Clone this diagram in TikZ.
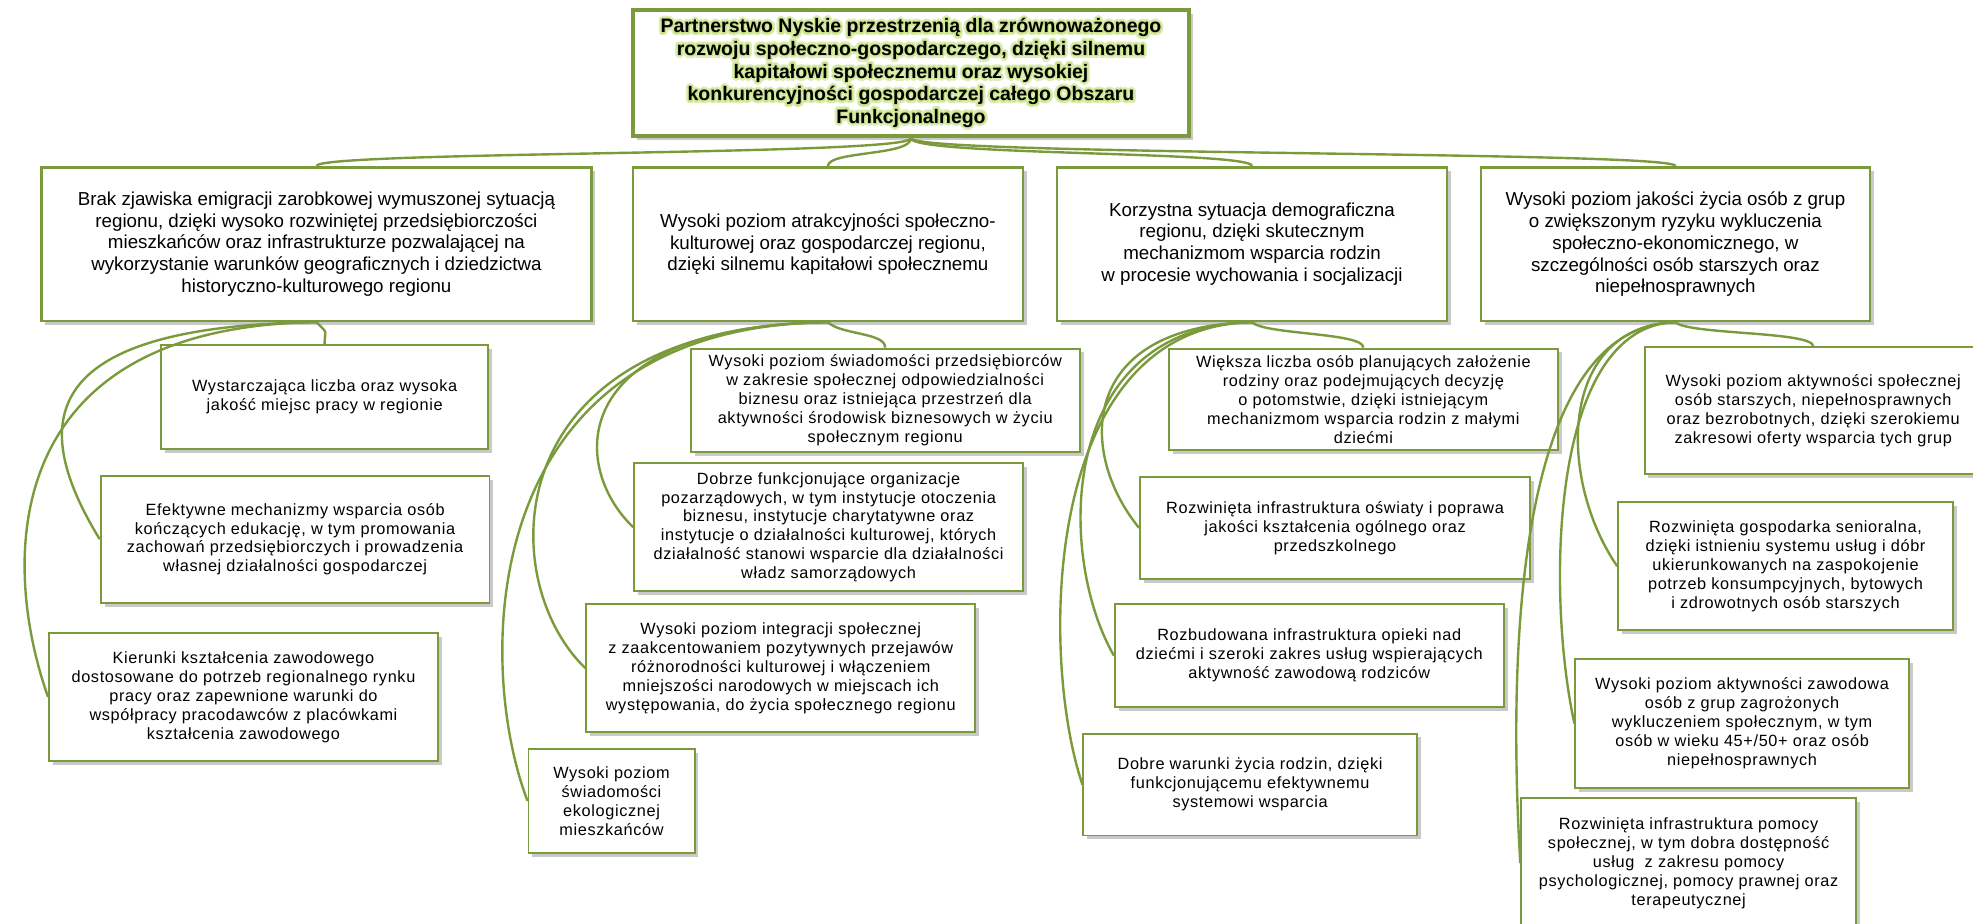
\documentclass[tikz,border=0pt]{standalone}
\usepackage{fontspec}
\setmainfont{Liberation Sans}
\newfontfamily\childfont[LetterSpace=4]{Liberation Sans}
\usetikzlibrary{calc,shadows}

\definecolor{boxgreen}{RGB}{122,154,60}
\definecolor{glowgreen}{RGB}{196,224,128}

\tikzset{
  boxsize/.style n args={2}{
    minimum width=#1*0.025cm,
    minimum height=#2*0.025cm
  }
}

\begin{document}
\begin{tikzpicture}[
  x=0.025cm, y=-0.025cm,
  box/.style={
    draw=boxgreen,
    fill=white,
    align=center,
    inner sep=2pt,
    drop shadow={shadow xshift=2.2pt, shadow yshift=-2.2pt, opacity=0.35, fill=black!60}
  },
  vision/.style={box, line width=2.6pt},
  visiontext/.style={
    align=center,
    inner sep=0pt,
    font=\bfseries\fontsize{11}{12.8}\selectfont
  },
  goal/.style={box, line width=1.5pt, font=\fontsize{10.6}{12.4}\selectfont},
  aim/.style={box, line width=1.1pt, font=\childfont\fontsize{9.2}{10.7}\selectfont},
  link/.style={draw=boxgreen, line width=1.35pt}
]

  \fill[white] (0,0) rectangle (1568,734);
  \useasboundingbox (0,0) rectangle (1568,734);

  % Main vision, with a soft green halo round the bold title.
  \def\visiontxt{Partnerstwo Nyskie przestrzenią dla zrównoważonego\\
    rozwoju społeczno-gospodarczego, dzięki silnemu\\
    kapitałowi społecznemu oraz wysokiej\\
    konkurencyjności gospodarczej całego Obszaru\\
    Funkcjonalnego}
  \node[vision, boxsize={442}{100}] (top) at (724,58) {};
  \foreach \a in {0,30,...,330} {
    \node[visiontext, text=glowgreen!55] at ($(top.center)+(\a:1.7pt)$) {\visiontxt};
    \node[visiontext, text=glowgreen] at ($(top.center)+(\a:0.9pt)$) {\visiontxt};
  }
  \node[visiontext] (title) at (top.center) {\visiontxt};

  % Strategic goals.
  \node[goal, boxsize={437}{122}] (A) at (251.5,194) {Brak zjawiska emigracji zarobkowej wymuszonej sytuacją\\
    regionu, dzięki wysoko rozwiniętej przedsiębiorczości\\
    mieszkańców oraz infrastrukturze pozwalającej na\\
    wykorzystanie warunków geograficznych i dziedzictwa\\
    historyczno-kulturowego regionu};
  \node[goal, boxsize={310}{122}] (B) at (658,194) {Wysoki poziom atrakcyjności społeczno-\\
    kulturowej oraz gospodarczej regionu,\\
    dzięki silnemu kapitałowi społecznemu};
  \node[goal, boxsize={310}{122}] (C) at (995,194) {Korzystna sytuacja demograficzna\\
    regionu, dzięki skutecznym\\
    mechanizmom wsparcia rodzin\\
    w procesie wychowania i socjalizacji};
  \node[goal, boxsize={309}{122}] (D) at (1331.5,194) {Wysoki poziom jakości życia osób z grup\\
    o zwiększonym ryzyku wykluczenia\\
    społeczno-ekonomicznego, w\\
    szczególności osób starszych oraz\\
    niepełnosprawnych};

  % Operational aims under goal A.
  \node[aim, boxsize={260}{83}] (A1) at (258,315.5) {Wystarczająca liczba oraz wysoka\\
    jakość miejsc pracy w regionie};
  \node[aim, boxsize={309}{101}] (A2) at (234.5,428.5) {Efektywne mechanizmy wsparcia osób\\
    kończących edukację, w tym promowania\\
    zachowań przedsiębiorczych i prowadzenia\\
    własnej działalności gospodarczej};
  \node[aim, boxsize={309}{102}] (A3) at (193.5,554) {Kierunki kształcenia zawodowego\\
    dostosowane do potrzeb regionalnego rynku\\
    pracy oraz zapewnione warunki do\\
    współpracy pracodawców z placówkami\\
    kształcenia zawodowego};

  % Operational aims under goal B.
  \node[aim, boxsize={309}{82}] (B1) at (703.5,318) {Wysoki poziom świadomości przedsiębiorców\\
    w zakresie społecznej odpowiedzialności\\
    biznesu oraz istniejąca przestrzeń dla\\
    aktywności środowisk biznesowych w życiu\\
    społecznym regionu};
  \node[aim, boxsize={309}{102}] (B2) at (658.5,419) {Dobrze funkcjonujące organizacje\\
    pozarządowych, w tym instytucje otoczenia\\
    biznesu, instytucje charytatywne oraz\\
    instytucje o działalności kulturowej, których\\
    działalność stanowi wsparcie dla działalności\\
    władz samorządowych};
  \node[aim, boxsize={309}{102}] (B3) at (620.5,531) {Wysoki poziom integracji społecznej\\
    z zaakcentowaniem pozytywnych przejawów\\
    różnorodności kulturowej i włączeniem\\
    mniejszości narodowych w miejscach ich\\
    występowania, do życia społecznego regionu};
  \node[aim, boxsize={132}{83}] (B4) at (486,636.5) {Wysoki poziom\\
    świadomości\\
    ekologicznej\\
    mieszkańców};

  % Operational aims under goal C.
  \node[aim, boxsize={309}{81}] (C1) at (1083.5,317.5) {Większa liczba osób planujących założenie\\
    rodziny oraz podejmujących decyzję\\
    o potomstwie, dzięki istniejącym\\
    mechanizmom wsparcia rodzin z małymi\\
    dziećmi};
  \node[aim, boxsize={310}{81}] (C2) at (1061,419.5) {Rozwinięta infrastruktura oświaty i poprawa\\
    jakości kształcenia ogólnego oraz\\
    przedszkolnego};
  \node[aim, boxsize={309}{82}] (C3) at (1040.5,521) {Rozbudowana infrastruktura opieki nad\\
    dziećmi i szeroki zakres usług wspierających\\
    aktywność zawodową rodziców};
  \node[aim, boxsize={265}{81}] (C4) at (993.5,623.5) {Dobre warunki życia rodzin, dzięki\\
    funkcjonującemu efektywnemu\\
    systemowi wsparcia};

  % Operational aims under goal D (the right and bottom ones run off the page).
  \node[aim, boxsize={268}{101}] (D1) at (1441,326.5) {Wysoki poziom aktywności społecznej\\
    osób starszych, niepełnosprawnych\\
    oraz bezrobotnych, dzięki szerokiemu\\
    zakresowi oferty wsparcia tych grup};
  \node[aim, boxsize={266}{102}] (D2) at (1419,450) {Rozwinięta gospodarka senioralna,\\
    dzięki istnieniu systemu usług i dóbr\\
    ukierunkowanych na zaspokojenie\\
    potrzeb konsumpcyjnych, bytowych\\
    i zdrowotnych osób starszych};
  \node[aim, boxsize={265}{102}] (D3) at (1384.5,575) {Wysoki poziom aktywności zawodowa\\
    osób z grup zagrożonych\\
    wykluczeniem społecznym, w tym\\
    osób w wieku 45+/50+ oraz osób\\
    niepełnosprawnych};
  \node[aim, boxsize={266}{104}] (D4) at (1342,686) {Rozwinięta infrastruktura pomocy\\
    społecznej, w tym dobra dostępność\\
    usług\ \ z zakresu pomocy\\
    psychologicznej, pomocy prawnej oraz\\
    terapeutycznej};

  % Vision to goals.
  \foreach \g in {A,B,C,D}
    \draw[link] (top.south) .. controls +(0,14) and +(0,-12) .. (\g.north);

  % Each goal reaches its first aim from above, the others from the left.
  \foreach \g in {A,B,C,D}
    \draw[link] (\g.south) .. controls +(10,10) and +(0,-12) .. (\g1.north);

  \foreach \k/\p/\q/\h in {A2/-226/-55/90, A3/-251/-39/110}
    \draw[link] (A.south) .. controls +(\p,3) and +(\q,-\h) .. (\k.west);
  \foreach \k/\p/\q/\h in {B2/-206/-52/50, B3/-265/-73/70, B4/-280/-42/110}
    \draw[link] (B.south) .. controls +(\p,3) and +(\q,-\h) .. (\k.west);
  \foreach \k/\p/\q/\h in {C2/-138/-49/60, C3/-155/-46/80, C4/-168/-34/100}
    \draw[link] (C.south) .. controls +(\p,3) and +(\q,-\h) .. (\k.west);
  \foreach \k/\p/\q/\h in {D2/-93/-48/70, D3/-101/-22/100, D4/-131/-9/150}
    \draw[link] (D.south) .. controls +(\p,3) and +(\q,-\h) .. (\k.west);

\end{tikzpicture}
\end{document}
